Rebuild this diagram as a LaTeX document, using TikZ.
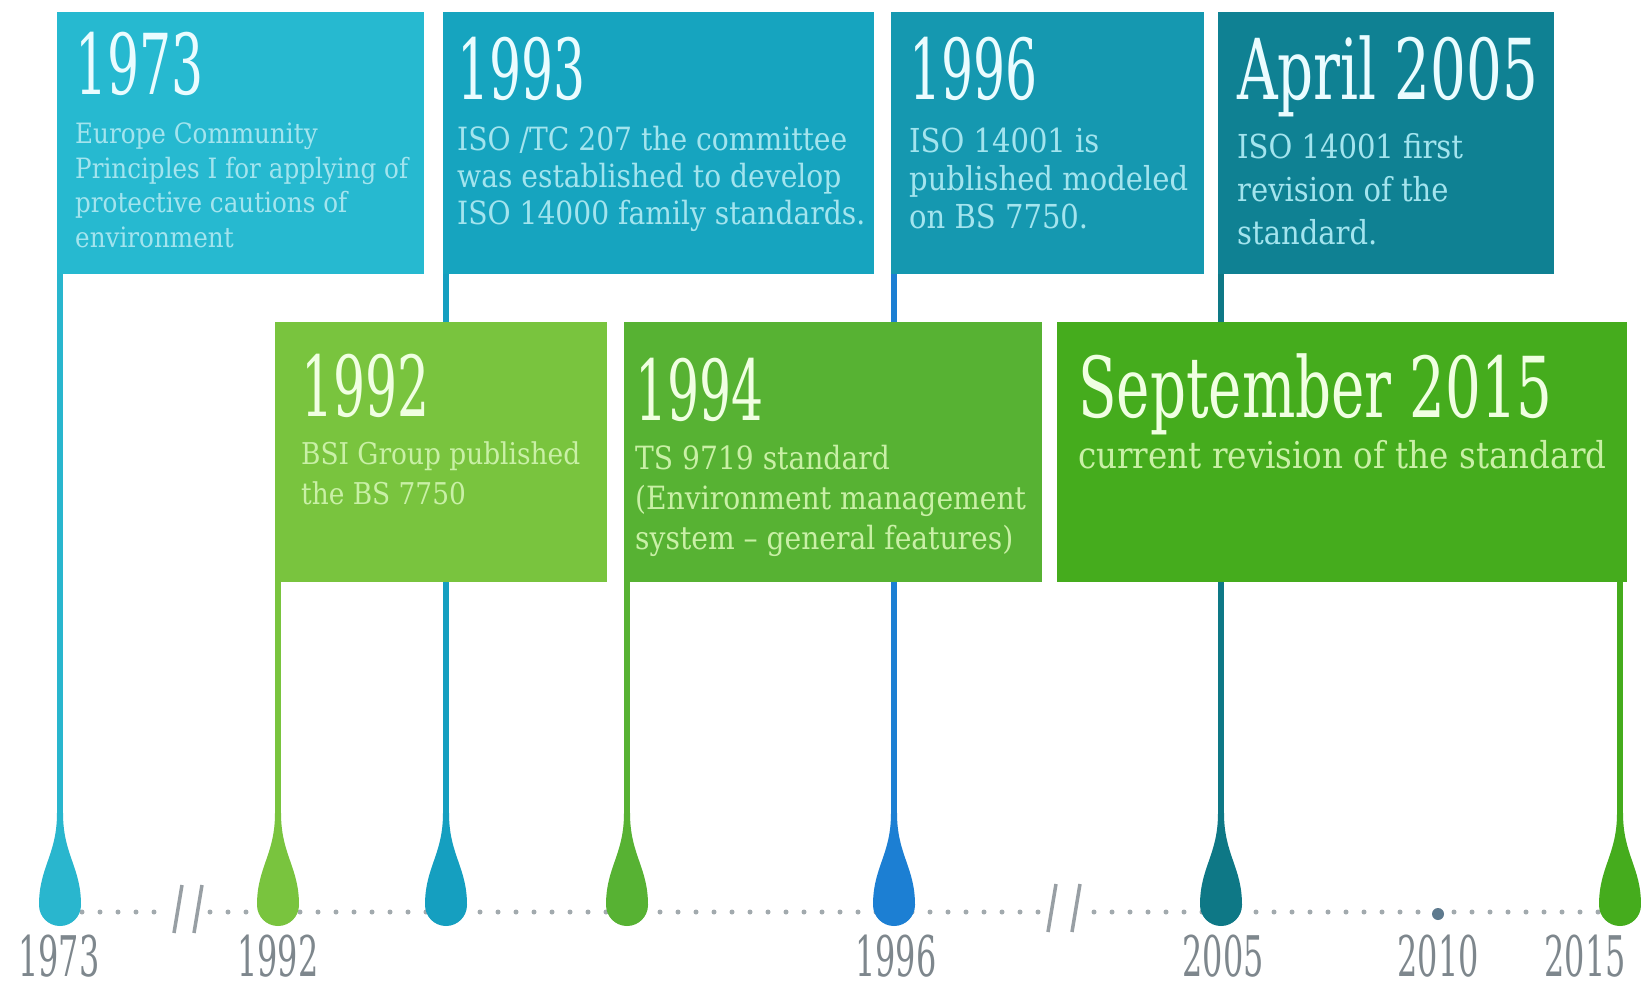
\documentclass[tikz,border=0pt]{standalone}
\usepackage{fontspec}
\newfontfamily\tfont[FakeStretch=0.6]{DejaVu Serif}
\newfontfamily\tfontw[FakeStretch=0.67]{DejaVu Serif}
\newfontfamily\bfont[FakeStretch=0.88]{DejaVu Serif}
\newfontfamily\lfont[FakeStretch=0.57]{DejaVu Serif}
\pgfdeclarelayer{bg}
\pgfsetlayers{bg,main}
\definecolor{cA}{HTML}{26B9D0}
\definecolor{cB}{HTML}{16A4BF}
\definecolor{cC}{HTML}{1598B0}
\definecolor{cD}{HTML}{0F8193}
\definecolor{gA}{HTML}{79C43E}
\definecolor{gB}{HTML}{57B233}
\definecolor{gC}{HTML}{45AC1D}
\definecolor{dA}{HTML}{29B6CE}
\definecolor{dB}{HTML}{159FC0}
\definecolor{blu}{HTML}{1C7FD3}
\definecolor{tl}{HTML}{0E7886}
\definecolor{ttlB}{HTML}{EAFCFF}
\definecolor{bodyB}{HTML}{A3E4EE}
\definecolor{ttlG}{HTML}{F0FFE2}
\definecolor{bodyG}{HTML}{C9F0A6}
\definecolor{lbl}{HTML}{7E878D}
\definecolor{dotc}{HTML}{A2AAAE}
\definecolor{slate}{HTML}{5E7A8E}
\tikzset{
  teardrop/.pic={\path[pic actions] (-3,-92) .. controls (-3,-50) and (-21,-38) .. (-21,0)
     .. controls (-21,11.6) and (-11.6,21) .. (0,21) .. controls (11.6,21) and (21,11.6) .. (21,0)
     .. controls (21,-38) and (3,-50) .. (3,-92) -- cycle;}
}
\begin{document}
\begin{tikzpicture}[x=1pt,y=-1pt,
  box/.style={fill=#1, draw=none, anchor=north west, inner sep=0pt},
  ttl/.style={anchor=north west, inner sep=0pt, text=#1, font={\tfont\fontsize{84}{84}\selectfont}},
  bdy/.style={anchor=north west, inner sep=0pt, align=left, text=#1},
  stemline/.style={draw=#1, line width=6.5pt},
  yr/.style={text=lbl, inner sep=0pt, font={\lfont\fontsize{56}{56}\selectfont}},
  dotline/.style={draw=dotc, line width=5pt, line cap=round, dash pattern=on 0pt off 18pt},
  slash/.style={draw=lbl!80, line width=3.5pt}
]
\useasboundingbox (0,0) rectangle (1641,990);
\begin{pgfonlayer}{bg}
\fill[white] (0,0) rectangle (1641,990);
\end{pgfonlayer}

% drop top coordinates
\coordinate (d1973) at (60,815);
\coordinate (d1992) at (278,815);
\coordinate (d1993) at (446,815);
\coordinate (d1994) at (627,815);
\coordinate (d1996) at (894,815);
\coordinate (d2005) at (1221,815);
\coordinate (d2015) at (1620,815);

% boxes
\node[box=cA, minimum width=367pt, minimum height=262pt] (b1973) at (57,12) {};
\node[box=cB, minimum width=431pt, minimum height=262pt] (b1993) at (443,12) {};
\node[box=cC, minimum width=313pt, minimum height=262pt] (b1996) at (891,12) {};
\node[box=cD, minimum width=336pt, minimum height=262pt] (b2005) at (1218,12) {};
\node[box=gA, minimum width=332pt, minimum height=260pt] (b1992) at (275,322) {};
\node[box=gB, minimum width=418pt, minimum height=260pt] (b1994) at (624,322) {};
\node[box=gC, minimum width=570pt, minimum height=260pt] (b2015) at (1057,322) {};

% stems and timeline
\begin{pgfonlayer}{bg}
\draw[stemline=dA] (b1973.south -| d1973) -- (d1973);
\draw[stemline=dB] (b1993.south -| d1993) -- (d1993);
\draw[stemline=blu] (b1996.south -| d1996) -- (d1996);
\draw[stemline=tl] (b2005.south -| d2005) -- (d2005);
\draw[stemline=gA] (b1992.south -| d1992) -- (d1992);
\draw[stemline=gB] (b1994.south -| d1994) -- (d1994);
\draw[stemline=gC] (b2015.south -| d2015) -- (d2015);
\coordinate (s1a) at (82,912); \coordinate (s1b) at (168,912);
\coordinate (s2a) at (210,912); \coordinate (s2b) at (1038,912);
\coordinate (s3a) at (1094,912); \coordinate (s3b) at (1600,912);
\draw[dotline] (s1a) -- (s1b);
\draw[dotline] (s2a) -- (s2b);
\draw[dotline] (s3a) -- (s3b);
\end{pgfonlayer}

% titles and texts
\node[ttl=ttlB] (t1973) at (75,32) {1973};
\node[bdy=bodyB, font={\bfont\fontsize{28}{34.5}\selectfont}] (x1973) at (75,123)
  {Europe Community\\Principles I for applying of\\protective cautions of\\environment};
\node[ttl=ttlB] (t1993) at (457,37) {1993};
\node[bdy=bodyB, font={\bfont\fontsize{32}{37}\selectfont}] (x1993) at (457,126)
  {ISO /TC 207 the committee\\was established to develop\\ISO 14000 family standards.};
\node[ttl=ttlB] (t1996) at (909,37) {1996};
\node[bdy=bodyB, font={\bfont\fontsize{33}{38}\selectfont}] (x1996) at (909,128)
  {ISO 14001 is\\published modeled\\on BS 7750.};
\node[ttl=ttlB, font={\tfontw\fontsize{84}{84}\selectfont}] (t2005) at (1237,35) {April 2005};
\node[bdy=bodyB, font={\bfont\fontsize{33}{43}\selectfont}] (x2005) at (1237,133)
  {ISO 14001 first\\revision of the\\standard.};
\node[ttl=ttlG] (t1992) at (301,354) {1992};
\node[bdy=bodyG, font={\bfont\fontsize{30}{40}\selectfont}] (x1992) at (301,442)
  {BSI Group published\\the BS 7750};
\node[ttl=ttlG] (t1994) at (635,358) {1994};
\node[bdy=bodyG, font={\bfont\fontsize{32}{40}\selectfont}] (x1994) at (635,445)
  {TS 9719 standard\\(Environment management\\system – general features)};
\node[ttl=ttlG, font={\tfontw\fontsize{84}{84}\selectfont}] (t2015) at (1078,353) {September 2015};
\node[bdy=bodyG, font={\bfont\fontsize{37}{40}\selectfont}] (x2015) at (1078,440)
  {current revision of the standard};

% drops
\pic[fill=dA] (p1973) at (60,905) {teardrop};
\pic[fill=gA] (p1992) at (278,905) {teardrop};
\pic[fill=dB] (p1993) at (446,905) {teardrop};
\pic[fill=gB] (p1994) at (627,905) {teardrop};
\pic[fill=blu] (p1996) at (894,905) {teardrop};
\pic[fill=tl] (p2005) at (1221,905) {teardrop};
\pic[fill=gC] (p2015) at (1620,905) {teardrop};
\node[circle, fill=slate, minimum size=12pt, inner sep=0pt] (m2010) at (1438,914) {};

% break marks
\draw[slash] (182,885) -- (174,933);
\draw[slash] (202,885) -- (194,933);
\draw[slash] (1056,884) -- (1048,932);
\draw[slash] (1080,884) -- (1072,932);

% year labels
\node[yr] (y1973) at (59,956) {1973};
\node[yr] (y1992) at (278,956) {1992};
\node[yr] (y1996) at (896,956) {1996};
\node[yr] (y2005) at (1223,956) {2005};
\node[yr] (y2010) at (1438,956) {2010};
\node[yr] (y2015) at (1585,956) {2015};
\end{tikzpicture}
\end{document}
